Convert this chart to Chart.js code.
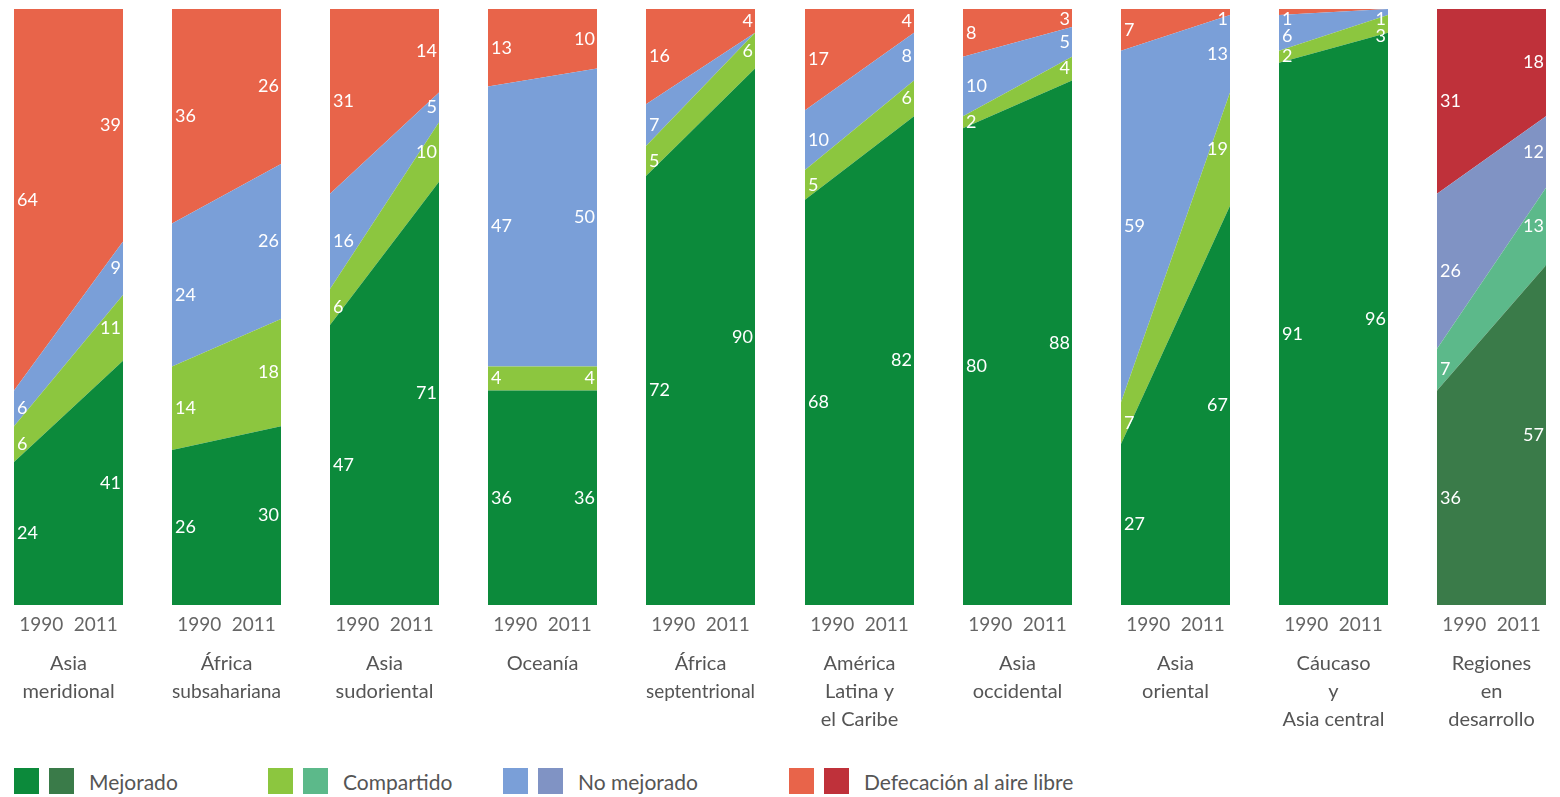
<!DOCTYPE html>
<html>
<head>
<meta charset="utf-8">
<script src="https://cdn.jsdelivr.net/npm/chart.js@4.4.1/dist/chart.umd.min.js"></script>
<style>
  body { margin: 0; width: 1560px; height: 797px; background: #fff; overflow: hidden; position: relative; font-family: Lato, "DejaVu Sans", sans-serif; }
  .panel { position: absolute; top: 0; }
  .legend { position: absolute; top: 768px; height: 26px; display: flex; align-items: center; font-size: 21px; color: #555; }
  .sw { width: 25px; height: 26px; margin-right: 10px; }
</style>
</head>
<body>
<script>
const years = ['1990', '2011'];
const regions = [
  ['Asia', 'meridional'],
  ['África', 'subsahariana'],
  ['Asia', 'sudoriental'],
  ['Oceanía'],
  ['África', 'septentrional'],
  ['América', 'Latina y', 'el Caribe'],
  ['Asia', 'occidental'],
  ['Asia', 'oriental'],
  ['Cáucaso', 'y', 'Asia central'],
  ['Regiones', 'en', 'desarrollo']
];
const seriesNames = ['Mejorado', 'Compartido', 'No mejorado', 'Defecación al aire libre'];

// [1990, 2011] for each region
const mejorado   = [[24, 41], [26, 30], [47, 71], [36, 36], [72, 90], [68, 82], [80, 88], [27, 67], [91, 96], [36, 57]];
const compartido = [[6, 11], [14, 18], [6, 10], [4, 4], [5, 6], [5, 6], [2, 4], [7, 19], [2, 3], [7, 13]];
const noMejorado = [[6, 9], [24, 26], [16, 5], [47, 50], [7, 0], [10, 8], [10, 5], [59, 13], [6, 1], [26, 12]];
const defecacion = [[64, 39], [36, 26], [31, 14], [13, 10], [16, 4], [17, 4], [8, 3], [7, 1], [1, 0], [31, 18]];

const colors = ['#0c8a3b', '#8cc63f', '#7a9fd8', '#e8644a'];
const colorsTotal = ['#3a7b49', '#5cb98a', '#8093c4', '#bf313a'];

const panelLeft = 14, panelStep = 158.1, panelWidth = 109, pad = 25;

const labelPlugin = {
  id: 'bandLabels',
  afterDatasetsDraw(chart) {
    const ctx = chart.ctx;
    const yScale = chart.scales.y;
    const area = chart.chartArea;
    ctx.save();
    ctx.font = '18px Lato, "DejaVu Sans", sans-serif';
    ctx.fillStyle = '#ffffff';
    ctx.textBaseline = 'middle';
    [0, 1].forEach(side => {
      const items = [];
      let base = 0;
      chart.data.datasets.forEach(ds => {
        const v = ds.data[side].y;
        if (v > 0) items.push({ v: v, y: yScale.getPixelForValue(base + v / 2) });
        base += v;
      });
      items.sort((a, b) => a.y - b.y);
      let prev = -Infinity;
      items.forEach(it => {
        let y = Math.max(it.y, area.top + 10, prev + 17);
        prev = y;
        ctx.textAlign = side === 0 ? 'left' : 'right';
        ctx.fillText(String(it.v), side === 0 ? area.left + 3 : area.right - 2, y);
      });
    });
    ctx.restore();
  }
};

regions.forEach((name, i) => {
  const div = document.createElement('div');
  div.className = 'panel';
  div.style.left = (panelLeft + panelStep * i - pad) + 'px';
  const canvas = document.createElement('canvas');
  canvas.width = panelWidth + pad * 2;
  canvas.height = 740;
  div.appendChild(canvas);
  document.body.appendChild(div);

  const pal = i === regions.length - 1 ? colorsTotal : colors;
  const values = [mejorado[i], compartido[i], noMejorado[i], defecacion[i]];
  const title = name.slice();
  while (title.length < 3) title.push('');

  new Chart(canvas.getContext('2d'), {
    type: 'line',
    data: {
      datasets: values.map((v, k) => ({
        label: seriesNames[k],
        data: [{ x: 0, y: v[0] }, { x: 1, y: v[1] }],
        backgroundColor: pal[k],
        borderWidth: 0,
        pointRadius: 0,
        fill: k === 0 ? 'origin' : '-1',
        tension: 0
      }))
    },
    options: {
      responsive: false,
      animation: false,
      layout: { padding: { top: 9, bottom: 6, left: pad, right: pad } },
      plugins: { legend: { display: false }, tooltip: { enabled: false } },
      scales: {
        y: { stacked: true, min: 0, max: 100, display: false },
        x: {
          type: 'linear', min: 0, max: 1,
          grid: { display: false },
          border: { display: false },
          afterBuildTicks: s => { s.ticks = [{ value: 0.25 }, { value: 0.75 }]; },
          afterFit: s => { s.height = 129; },
          ticks: {
            padding: 0,
            color: '#666',
            font: { family: 'Lato, "DejaVu Sans", sans-serif', size: 19 },
            maxRotation: 0,
            callback: (v, idx) => years[idx]
          },
          title: {
            display: true,
            text: title,
            color: '#555',
            font: { family: 'Lato, "DejaVu Sans", sans-serif', size: 20, lineHeight: 1.4 },
            padding: { top: 0, bottom: 0 }
          }
        }
      }
    },
    plugins: [labelPlugin]
  });
});

// legend
const legendX = [14, 268, 503, 789];
seriesNames.forEach((s, k) => {
  const item = document.createElement('div');
  item.className = 'legend';
  item.style.left = legendX[k] + 'px';
  item.innerHTML = '<div class="sw" style="background:' + colors[k] + '"></div>' +
    '<div class="sw" style="background:' + colorsTotal[k] + ';margin-right:15px"></div>' +
    '<span>' + s + '</span>';
  document.body.appendChild(item);
});
</script>
</body>
</html>
